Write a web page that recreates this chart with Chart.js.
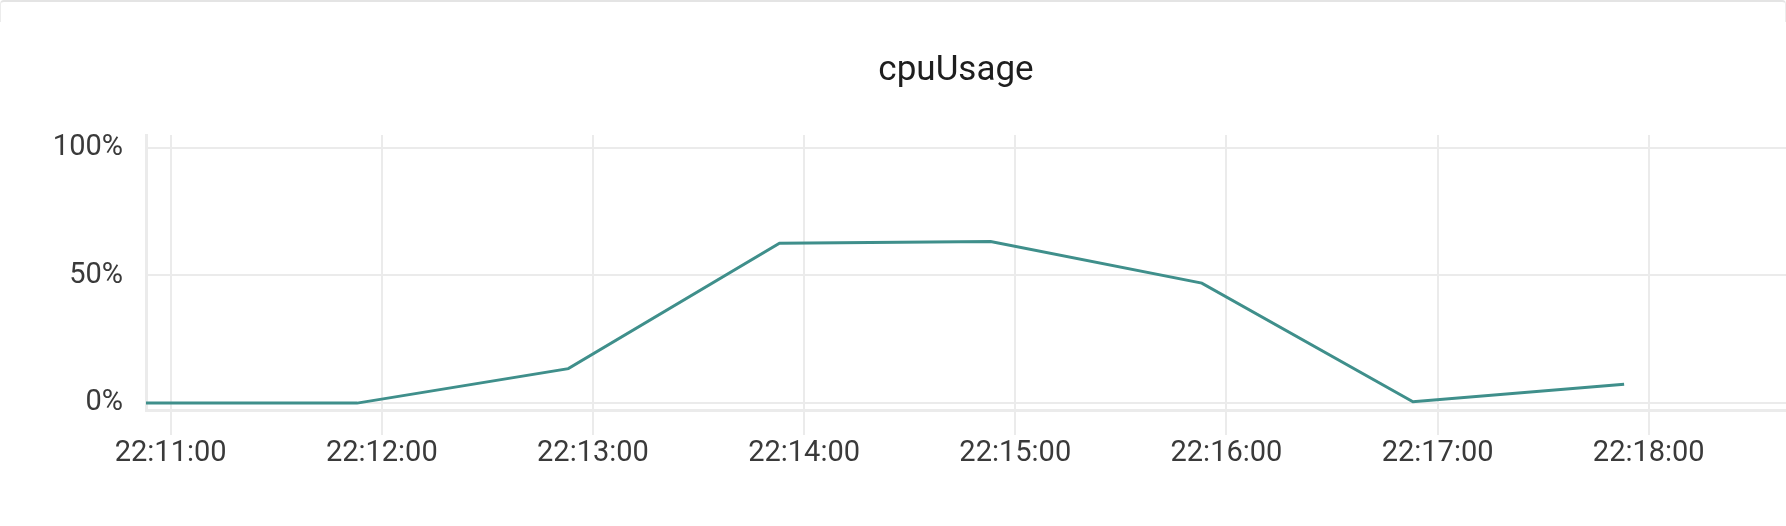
<!DOCTYPE html>
<html>
<head>
<meta charset="utf-8">
<script src="https://cdn.jsdelivr.net/npm/chart.js@4.4.1/dist/chart.umd.min.js"></script>
<style>
  html, body { margin: 0; padding: 0; background: #fff; }
  #wrap { position: relative; width: 1786px; height: 526px; }
  #edge { position: absolute; left: 0; top: 0; width: 1784px; height: 20px;
          border-top: 2px solid #e4e4e4; border-left: 1px solid #ececec; border-right: 1px solid #ececec;
          border-top-left-radius: 4px; border-top-right-radius: 4px; pointer-events: none; }
</style>
</head>
<body>
<div id="wrap">
  <canvas id="cpuChart" width="1786" height="526"></canvas>
  <div id="edge"></div>
</div>
<script>
// sample times (hh:mm:ss) and cpu usage in percent
let sampleTimes = ["22:10:53", "22:11:53", "22:12:53", "22:13:53", "22:14:53", "22:15:53", "22:16:53", "22:17:53"];
let cpuUsage = [0, 0, 13.5, 62.6, 63.3, 47, 0.5, 7.4];
let xTickLabels = ["22:11:00", "22:12:00", "22:13:00", "22:14:00", "22:15:00", "22:16:00", "22:17:00", "22:18:00"];
let yTickValues = [0, 50, 100];
let axisEnd = "22:18:39";

function toSeconds(t) {
  let p = t.split(":").map(Number);
  return p[0] * 3600 + p[1] * 60 + p[2];
}
function pad(n) { return String(n).padStart(2, "0"); }
function toLabel(s) {
  return pad(Math.floor(s / 3600)) + ":" + pad(Math.floor(s / 60) % 60) + ":" + pad(s % 60);
}

let points = sampleTimes.map((t, i) => ({ x: toSeconds(t), y: cpuUsage[i] }));
let gridColor = "#ebebeb";

// nudge the title a little left, like the original
let titleShift = {
  id: "titleShift",
  afterLayout(chart) {
    if (chart.titleBlock) {
      chart.titleBlock.left -= 10;
      chart.titleBlock.right -= 10;
    }
  },
};

let canvasElement = document.getElementById("cpuChart");
let config = {
  type: "line",
  data: {
    datasets: [
      {
        label: "cpuUsage",
        data: points,
        borderColor: "#3f8f8b",
        borderWidth: 3,
        pointRadius: 0,
        tension: 0,
        fill: false,
      },
    ],
  },
  options: {
    responsive: false,
    animation: false,
    layout: { padding: { left: 0, right: 0, top: 0, bottom: 0 } },
    plugins: {
      legend: { display: false },
      tooltip: { enabled: false },
      title: {
        display: true,
        text: "cpuUsage",
        fullSize: false,
        color: "#1e1e1e",
        font: { family: "Roboto", size: 35, weight: "normal" },
        padding: { top: 50, bottom: 43 },
      },
    },
    scales: {
      x: {
        type: "linear",
        min: toSeconds(sampleTimes[0]),
        max: toSeconds(axisEnd),
        afterBuildTicks: (scale) => {
          scale.ticks = xTickLabels.map((l) => ({ value: toSeconds(l) }));
        },
        afterFit: (scale) => { scale.height = 116; },
        ticks: {
          autoSkip: false,
          maxRotation: 0,
          padding: 1,
          color: "#3a3a3a",
          font: { family: "Roboto", size: 29 },
          callback: (v) => toLabel(v),
        },
        grid: { color: gridColor, lineWidth: 2, tickLength: 25, drawTicks: true },
        border: { color: gridColor, width: 3 },
      },
      y: {
        min: -2.7,
        max: 105,
        afterBuildTicks: (scale) => {
          scale.ticks = yTickValues.map((v) => ({ value: v }));
        },
        afterFit: (scale) => { scale.width = 146; },
        ticks: {
          padding: 23,
          color: "#3a3a3a",
          font: { family: "Roboto", size: 29 },
          callback: (v) => v + "%",
        },
        grid: { color: gridColor, lineWidth: 2, drawTicks: false },
        border: { color: gridColor, width: 3 },
      },
    },
  },
  plugins: [titleShift],
};
let cpuChart = new Chart(canvasElement, config);
</script>
</body>
</html>
